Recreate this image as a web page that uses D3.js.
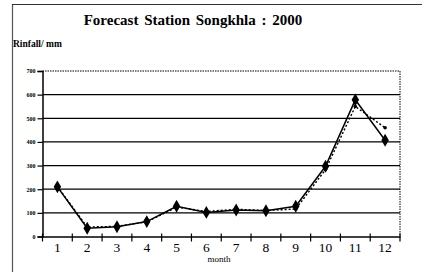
<!DOCTYPE html>
<html><head><meta charset="utf-8">
<script src="https://cdn.jsdelivr.net/npm/d3@7"></script>
<style>body{margin:0;background:#fff}svg{display:block}</style>
</head><body>
<svg id="c" width="422" height="276"></svg>
<script>
const months = ["1","2","3","4","5","6","7","8","9","10","11","12"];
const observed = [210, 35, 41, 63, 128, 102, 112, 109, 128, 297, 578, 407];
const forecast = [212, 40, 43, 62, 124, 106, 115, 110, 116, 283, 550, 460];
const yTicks = [0, 100, 200, 300, 400, 500, 600, 700];

const svg = d3.select("#c");
const L = 42.5, R = 400, T = 71, B = 236.5;
const x = d3.scaleBand().domain(months).range([L, R]);
const y = d3.scaleLinear().domain([0, 700]).range([B, T]);
const serif = "'Liberation Serif','Times New Roman',serif";

// outer frame
svg.append("line").attr("x1",12.5).attr("x2",12.5).attr("y1",4).attr("y2",272).attr("stroke","#555").attr("stroke-width",1.2);
svg.append("line").attr("x1",12).attr("x2",422).attr("y1",4.5).attr("y2",4.5).attr("stroke","#333").attr("stroke-width",1.2);

svg.append("text").attr("x",193).attr("y",25).attr("text-anchor","middle")
  .attr("font-family",serif).attr("font-weight","bold").attr("font-size",15).attr("word-spacing",2).text("Forecast Station  Songkhla : 2000");
svg.append("text").attr("x",13).attr("y",47).attr("font-family",serif).attr("font-weight","bold").attr("font-size",9.5).text("Rinfall/ mm");

// gridlines
svg.append("g").selectAll("line").data(yTicks.filter(d=>d>0 && d<700)).join("line")
  .attr("x1",L).attr("x2",R).attr("y1",d=>y(d)).attr("y2",d=>y(d)).attr("stroke","#000").attr("stroke-width",1.3);
// top dotted and right dotted borders
svg.append("line").attr("x1",L).attr("x2",R).attr("y1",y(700)).attr("y2",y(700)).attr("stroke","#000").attr("stroke-dasharray","1.5,1").attr("stroke-width",1);
svg.append("line").attr("x1",R).attr("x2",R).attr("y1",y(700)).attr("y2",B).attr("stroke","#000").attr("stroke-dasharray","1.5,1").attr("stroke-width",1);

// y axis
const ya = svg.append("g").attr("transform",`translate(${L},0)`)
  .call(d3.axisLeft(y).tickValues(yTicks).tickSize(5).tickFormat(d3.format("d")));
ya.select(".domain").attr("stroke","#000").attr("stroke-width",1.5);
ya.selectAll("line").attr("stroke","#000").attr("stroke-width",1.2);
ya.selectAll("text").attr("font-family",serif).attr("font-weight","bold").attr("font-size",6).attr("x",-7);

// x axis
const xa = svg.append("g").attr("transform",`translate(0,${B})`)
  .call(d3.axisBottom(x).tickSize(0).tickPadding(6));
xa.select(".domain").attr("stroke","#000").attr("stroke-width",1.5);
xa.selectAll("text").attr("font-family",serif).attr("font-size",13.5).attr("fill","#000");
svg.append("g").selectAll("line").data(months.concat(["end"])).join("line")
  .attr("x1",(d,i)=>L + i*x.step()).attr("x2",(d,i)=>L + i*x.step())
  .attr("y1",B-3).attr("y2",B+5).attr("stroke","#000").attr("stroke-width",1.2);
svg.append("text").attr("x",219).attr("y",262).attr("text-anchor","middle")
  .attr("font-family",serif).attr("font-size",9).text("month");

const cx = d => x(d) + x.bandwidth()/2;
const line = d3.line().x((d,i)=>cx(months[i])).y(d=>y(d));

// forecast dotted
svg.append("path").datum(forecast).attr("d",line).attr("fill","none").attr("stroke","#000")
  .attr("stroke-width",1.4).attr("stroke-dasharray","2,2");
svg.append("g").selectAll("circle").data(forecast).join("circle")
  .attr("cx",(d,i)=>cx(months[i])).attr("cy",d=>y(d)).attr("r",1.8).attr("fill","#000");

// observed
svg.append("path").datum(observed).attr("d",line).attr("fill","none").attr("stroke","#000").attr("stroke-width",1.5);
svg.append("g").selectAll("path").data(observed).join("path")
  .attr("d",d3.symbol().type(d3.symbolDiamond).size(48))
  .attr("transform",(d,i)=>`translate(${cx(months[i])},${y(d)})`).attr("fill","#000");
</script>
</body></html>
